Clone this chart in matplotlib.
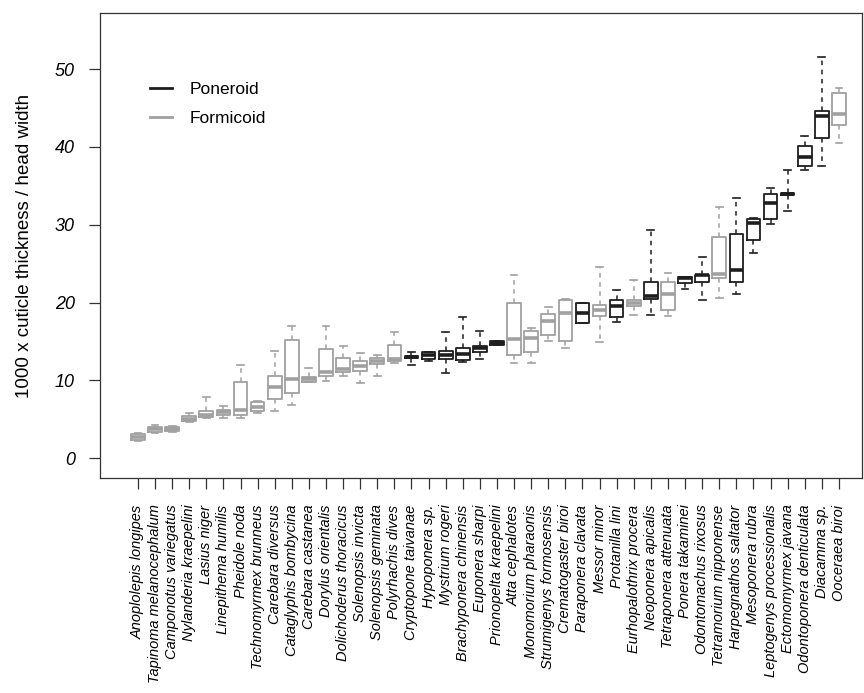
import numpy as np
import matplotlib.pyplot as plt

plt.rcParams['font.family'] = ['Liberation Sans', 'DejaVu Sans']

species = ['Anoplolepis longipes', 'Tapinoma melanocephalum', 'Camponotus variegatus',
           'Nylanderia kraepelini', 'Lasius niger', 'Linepithema humilis', 'Pheidole noda',
           'Technomyrmex brunneus', 'Carebara diversus', 'Cataglyphis bombycina',
           'Carebara castanea', 'Dorylus orientalis', 'Dolichoderus thoracicus',
           'Solenopsis invicta', 'Solenopsis geminata', 'Polyrhachis dives',
           'Cryptopone taivanae', 'Hypoponera sp.', 'Mystrium rogeri', 'Brachyponera chinensis',
           'Euponera sharpi', 'Prionopelta kraepelini', 'Atta cephalotes',
           'Monomorium pharaonis', 'Strumigenys formosensis', 'Crematogaster biroi',
           'Paraponera clavata', 'Messor minor', 'Protanilla lini', 'Eurhopalothrix procera',
           'Neoponera apicalis', 'Tetraponera attenuata', 'Ponera takaminei',
           'Odontomachus rixosus', 'Tetramorium nipponense', 'Harpegnathos saltator',
           'Mesoponera rubra', 'Leptogenys processionalis', 'Ectomomyrmex javana',
           'Odontoponera denticulata', 'Diacamma sp.', 'Ooceraea biroi']

# P = Poneroid, F = Formicoid
group = ['F', 'F', 'F', 'F', 'F', 'F', 'F', 'F', 'F', 'F',
         'F', 'F', 'F', 'F', 'F', 'F', 'P', 'P', 'P', 'P',
         'P', 'P', 'F', 'F', 'F', 'F', 'P', 'F', 'P', 'F',
         'P', 'F', 'P', 'P', 'F', 'P', 'P', 'P', 'P', 'P',
         'P', 'F']

whislo = [2.2, 3.3, 3.4, 4.67, 5.1, 5.2, 5.1, 5.8, 6.0, 6.85,
          9.85, 9.9, 10.6, 9.6, 10.6, 12.25, 12.0, 12.55, 10.9, 12.4,
          12.8, 14.5, 12.2, 12.2, 15.0, 14.2, 17.35, 14.9, 17.5, 18.4,
          18.4, 18.25, 21.7, 20.3, 20.6, 21.1, 26.4, 30.1, 31.8, 37.0,
          37.5, 40.5]
q1 = [2.4, 3.4, 3.5, 4.76, 5.23, 5.5, 5.5, 6.0, 7.6, 8.4,
      9.85, 10.6, 11.1, 11.2, 12.1, 12.5, 12.9, 12.8, 12.7, 12.6,
      13.6, 14.5, 13.2, 13.6, 15.8, 15.0, 17.35, 18.3, 18.1, 19.6,
      20.4, 19.0, 22.5, 22.6, 23.1, 22.6, 28.0, 30.7, 33.8, 37.6,
      41.2, 42.8]
med = [2.7, 3.7, 3.7, 5.05, 5.5, 5.9, 6.2, 6.6, 9.15, 10.2,
       10.2, 11.1, 11.5, 11.9, 12.55, 12.7, 13.0, 13.25, 13.3, 13.4,
       14.2, 14.8, 15.3, 15.5, 17.65, 18.6, 18.7, 19.0, 19.5, 19.95,
       20.9, 21.1, 23.1, 23.5, 23.65, 24.2, 30.2, 32.85, 34.0, 38.65,
       44.0, 44.25]
q3 = [3.15, 4.0, 4.0, 5.4, 6.0, 6.2, 9.8, 7.16, 10.6, 15.2,
      10.45, 14.05, 12.85, 12.5, 12.9, 14.5, 13.15, 13.7, 13.75, 14.1,
      14.4, 15.0, 20.0, 16.3, 18.55, 20.3, 20.0, 19.7, 20.3, 20.35,
      22.6, 22.6, 23.3, 23.6, 28.4, 28.8, 30.8, 33.9, 34.1, 40.1,
      44.6, 47.0]
whishi = [3.3, 4.3, 4.1, 5.8, 7.8, 6.7, 12.0, 7.3, 13.8, 17.0,
          11.65, 17.0, 14.4, 13.5, 13.3, 16.2, 13.6, 13.7, 16.2, 18.1,
          16.3, 15.1, 23.6, 16.7, 19.4, 20.4, 20.0, 24.6, 21.6, 22.9,
          29.3, 23.8, 23.3, 25.8, 32.3, 33.5, 30.9, 34.7, 37.0, 41.4,
          51.6, 47.6]

colors = {'P': '#1e1e1e', 'F': '#a0a0a0'}

fig = plt.figure(figsize=(8.64, 6.93), dpi=100)
ax = fig.add_axes([0.1157, 0.310, 0.882, 0.671])

positions = np.arange(1, len(species) + 1)
for i in range(len(species)):
    c = colors[group[i]]
    st = [{'whislo': whislo[i], 'q1': q1[i], 'med': med[i], 'q3': q3[i],
           'whishi': whishi[i], 'fliers': []}]
    ax.bxp(st, positions=[positions[i]], widths=0.8, showfliers=False,
           boxprops=dict(color=c, linewidth=1.3),
           medianprops=dict(color=c, linewidth=2.6, solid_capstyle='butt'),
           whiskerprops=dict(color=c, linewidth=1.1, linestyle=(0, (3, 3))),
           capprops=dict(color=c, linewidth=1.2),
           capwidths=0.4)

ax.set_xlim(-1.22, 43.35)
ax.set_ylim(-2.57, 57.2)
ax.set_xticks(positions)
ax.set_xticklabels(species, rotation=90, fontsize=10.5, style='italic',
                   va='top', ha='center')
ax.set_yticks([0, 10, 20, 30, 40, 50])
ax.set_yticklabels(['0', '10', '20', '30', '40', '50'], fontsize=13, style='italic')
ax.tick_params(axis='both', direction='out', length=8, width=0.9, color='#333333')
ax.tick_params(axis='x', pad=11)
ax.tick_params(axis='y', pad=10)
for s in ax.spines.values():
    s.set_color('#333333')
    s.set_linewidth(0.9)

ax.set_ylabel('1000 x cuticle thickness / head width', fontsize=13.5, labelpad=16)

ax.plot([], [], color=colors['P'], linewidth=2, label='Poneroid')
ax.plot([], [], color=colors['F'], linewidth=2, label='Formicoid')
ax.legend(loc='upper left', bbox_to_anchor=(0.045, 0.885), frameon=False, fontsize=12.5,
          handlelength=1.3, handletextpad=1.0, labelspacing=0.75)

fig.savefig('out.png', dpi=100)
